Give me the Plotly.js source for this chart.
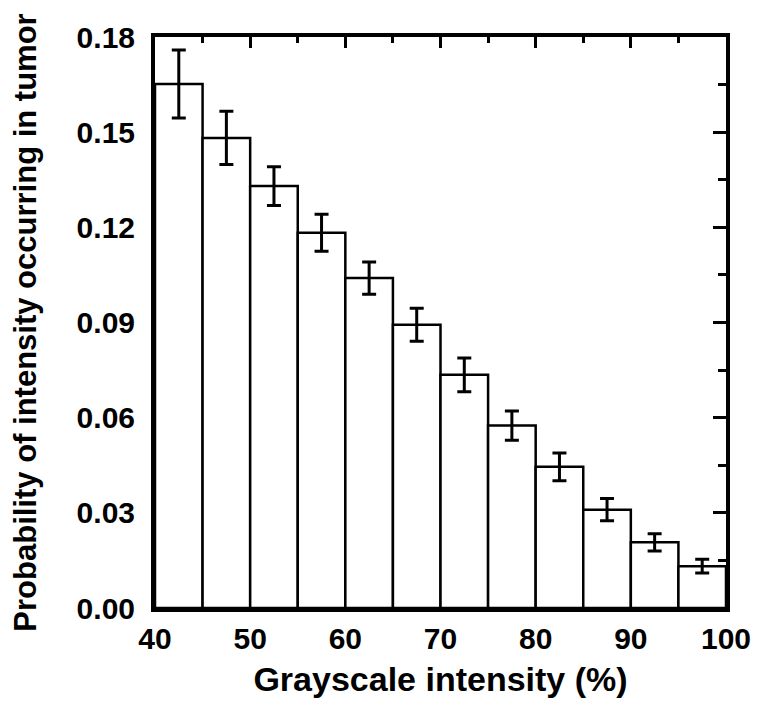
<!DOCTYPE html>
<html>
<head>
<meta charset="utf-8">
<script src="https://cdn.plot.ly/plotly-3.0.1.min.js"></script>
<style>
  html, body { margin: 0; padding: 0; background: #fff; }
  #plot { width: 764px; height: 715px; }
</style>
</head>
<body>
<div id="plot"></div>
<script>
// bin centres (grayscale intensity, %), bin width 5
const binCenters = [42.5, 47.5, 52.5, 57.5, 62.5, 67.5, 72.5, 77.5, 82.5, 87.5, 92.5, 97.5];
const probability = [0.1652, 0.1482, 0.1330, 0.1183, 0.1040, 0.0893, 0.0735, 0.0575, 0.0445, 0.0310, 0.0207, 0.0132];
const errors = [0.0107, 0.0084, 0.0061, 0.0058, 0.0051, 0.0052, 0.0053, 0.0046, 0.0044, 0.0035, 0.0027, 0.0022];
const yTicks = [0, 0.03, 0.06, 0.09, 0.12, 0.15, 0.18];

const family = "Liberation Sans, Arial, sans-serif";
const tickFont = { family: family, size: 30, color: "#000", weight: "bold" };
const xTitleFont = { family: family, size: 34, color: "#000", weight: "bold" };
const yTitleFont = { family: family, size: 31, color: "#000", weight: "bold" };

const bars = {
  x: binCenters,
  y: probability,
  type: "bar",
  width: 5,
  marker: { color: "#fff", line: { color: "#000", width: 2.5 } },
  error_y: { type: "data", array: errors, visible: true, color: "#000", thickness: 3, width: 7 },
  hoverinfo: "x+y",
  showlegend: false,
};

// invisible trace so the mirrored top/right axes get drawn
const mirror = {
  x: binCenters,
  y: probability,
  xaxis: "x2",
  yaxis: "y2",
  type: "scatter",
  mode: "markers",
  marker: { opacity: 0 },
  hoverinfo: "skip",
  showlegend: false,
};

const layout = {
  width: 764,
  height: 715,
  margin: { l: 155, r: 38, t: 37, b: 107 },
  paper_bgcolor: "#fff",
  plot_bgcolor: "#fff",
  font: tickFont,
  xaxis: {
    range: [40, 100],
    dtick: 10,
    tick0: 40,
    ticks: "",
    showgrid: false,
    zeroline: false,
    showline: true,
    linewidth: 4,
    linecolor: "#000",
    tickfont: tickFont,
    ticklabelstandoff: 1,
    title: { text: "Grayscale intensity (%)", font: xTitleFont, standoff: 14 },
  },
  yaxis: {
    range: [0, 0.18],
    tickvals: yTicks,
    tickformat: ".2f",
    ticks: "",
    showgrid: false,
    zeroline: false,
    showline: true,
    linewidth: 4,
    linecolor: "#000",
    tickfont: tickFont,
    ticklabelstandoff: 10,
    title: { text: "Probability of intensity occ" + "urring in tumor", font: yTitleFont, standoff: 32 },
  },
  xaxis2: {
    overlaying: "x",
    side: "top",
    anchor: "y2",
    range: [40, 100],
    dtick: 10,
    tick0: 40,
    ticks: "inside",
    ticklen: 11,
    tickwidth: 3,
    tickcolor: "#000",
    minor: { ticks: "inside", ticklen: 6, tickwidth: 3, dtick: 5, tickcolor: "#000" },
    showticklabels: false,
    showgrid: false,
    zeroline: false,
    showline: true,
    linewidth: 4,
    linecolor: "#000",
  },
  yaxis2: {
    overlaying: "y",
    side: "right",
    anchor: "x2",
    range: [0, 0.18],
    dtick: 0.03,
    tick0: 0,
    ticks: "inside",
    ticklen: 13,
    tickwidth: 3,
    tickcolor: "#000",
    minor: { ticks: "inside", ticklen: 8, tickwidth: 3, dtick: 0.015, tickcolor: "#000" },
    showticklabels: false,
    showgrid: false,
    zeroline: false,
    showline: true,
    linewidth: 4,
    linecolor: "#000",
  },
  bargap: 0,
};

Plotly.newPlot("plot", [bars, mirror], layout, { displayModeBar: false, staticPlot: true });
</script>
</body>
</html>
